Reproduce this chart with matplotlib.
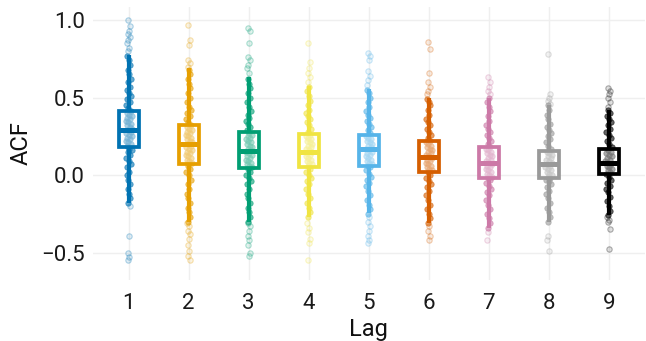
import numpy as np
import matplotlib
matplotlib.use("Agg")
import matplotlib.pyplot as plt
from matplotlib import font_manager as fm

names = {f.name for f in fm.fontManager.ttflist}
FONT = "DejaVu Sans"
for cand in ["Roboto", "Liberation Sans"]:
    if cand in names:
        FONT = cand
        break
plt.rcParams['font.family'] = [FONT, 'DejaVu Sans']

lags = [1, 2, 3, 4, 5, 6, 7, 8, 9]
colors = ["#0072B2", "#E69F00", "#009E73", "#F0E442", "#56B4E9",
          "#D55E00", "#CC79A7", "#999999", "#000000"]

# box statistics
q1 = [0.178, 0.073, 0.045, 0.055, 0.060, 0.020, -0.021, -0.020, 0.006]
med = [0.290, 0.200, 0.155, 0.150, 0.166, 0.118, 0.075, 0.071, 0.075]
q3 = [0.415, 0.325, 0.275, 0.268, 0.258, 0.220, 0.183, 0.155, 0.168]
whislo = [-0.180, -0.300, -0.300, -0.270, -0.247, -0.310, -0.344, -0.300, -0.260]
whishi = [0.774, 0.688, 0.634, 0.574, 0.555, 0.495, 0.500, 0.450, 0.420]

# ACF values (estimated) for each lag
cloud1 = [-0.18, -0.15, -0.12, -0.09, -0.06, -0.03, 0.0, 0.02, 0.05, 0.07, 0.09, 0.11, 0.13, 0.15, 0.16, 0.17,
          0.19, 0.2, 0.21, 0.22, 0.23, 0.24, 0.25, 0.26, 0.27, 0.28, 0.29, 0.3, 0.31, 0.32, 0.33, 0.34, 0.35,
          0.36, 0.37, 0.38, 0.39, 0.4, 0.41, 0.43, 0.45, 0.47, 0.49, 0.51, 0.53, 0.55, 0.57, 0.6, 0.62, 0.65,
          0.68, 0.71, 0.74, 0.77]
cloud2 = [-0.3, -0.27, -0.24, -0.21, -0.18, -0.15, -0.12, -0.09, -0.06, -0.03, 0.0, 0.02, 0.04, 0.06,
          0.08, 0.09, 0.1, 0.11, 0.12, 0.13, 0.14, 0.15, 0.16, 0.17, 0.18, 0.19, 0.2, 0.21, 0.22, 0.23, 0.24,
          0.25, 0.26, 0.27, 0.28, 0.29, 0.3, 0.31, 0.32, 0.34, 0.36, 0.38, 0.4, 0.42, 0.44, 0.47, 0.5, 0.53,
          0.56, 0.59, 0.62, 0.65, 0.68]
cloud3 = [-0.3, -0.27, -0.24, -0.21, -0.18, -0.15, -0.12, -0.09, -0.06, -0.04, -0.02, 0.0, 0.02, 0.04,
          0.05, 0.06, 0.07, 0.08, 0.09, 0.1, 0.11, 0.12, 0.13, 0.14, 0.15, 0.16, 0.17, 0.18, 0.19, 0.2, 0.21,
          0.22, 0.23, 0.24, 0.25, 0.26, 0.27, 0.29, 0.31, 0.33, 0.35, 0.37, 0.39, 0.41, 0.44, 0.47, 0.5, 0.53,
          0.56, 0.59, 0.62]
cloud4 = [-0.27, -0.24, -0.21, -0.18, -0.15, -0.12, -0.09, -0.06, -0.04, -0.02, 0.0, 0.02, 0.04,
          0.06, 0.07, 0.08, 0.09, 0.1, 0.11, 0.12, 0.13, 0.14, 0.15, 0.16, 0.17, 0.18, 0.19, 0.2, 0.21, 0.22,
          0.23, 0.24, 0.25, 0.26, 0.28, 0.3, 0.32, 0.34, 0.36, 0.38, 0.4, 0.42, 0.45, 0.48, 0.51, 0.54, 0.57]
cloud5 = [-0.25, -0.22, -0.19, -0.16, -0.13, -0.1, -0.07, -0.05, -0.03, -0.01, 0.01, 0.03, 0.05,
          0.06, 0.07, 0.08, 0.09, 0.1, 0.11, 0.12, 0.13, 0.14, 0.15, 0.16, 0.17, 0.18, 0.19, 0.2, 0.21, 0.22,
          0.23, 0.24, 0.25, 0.27, 0.29, 0.31, 0.33, 0.35, 0.37, 0.39, 0.41, 0.44, 0.47, 0.5, 0.53, 0.55]
cloud6 = [-0.31, -0.28, -0.25, -0.22, -0.19, -0.16, -0.13, -0.1, -0.08, -0.06, -0.04, -0.02, 0.0,
          0.02, 0.03, 0.04, 0.05, 0.06, 0.07, 0.08, 0.09, 0.1, 0.11, 0.12, 0.13, 0.14, 0.15, 0.16, 0.17, 0.18,
          0.19, 0.2, 0.21, 0.22, 0.24, 0.26, 0.28, 0.3, 0.32, 0.34, 0.36, 0.39, 0.42, 0.45, 0.47, 0.49]
cloud7 = [-0.34, -0.31, -0.28, -0.25, -0.22, -0.19, -0.16, -0.13, -0.11, -0.09, -0.07, -0.05, -0.03,
          -0.02, -0.01, 0.0, 0.01, 0.02, 0.03, 0.04, 0.05, 0.06, 0.07, 0.08, 0.09, 0.1, 0.11, 0.12, 0.13, 0.14,
          0.15, 0.16, 0.17, 0.18, 0.2, 0.22, 0.24, 0.26, 0.28, 0.3, 0.32, 0.35, 0.38, 0.41, 0.44, 0.47, 0.5]
cloud8 = [-0.3, -0.27, -0.24, -0.21, -0.18, -0.15, -0.12, -0.1, -0.08, -0.06, -0.04, -0.03,
          -0.02, -0.01, 0.0, 0.01, 0.02, 0.03, 0.04, 0.05, 0.06, 0.07, 0.08, 0.09, 0.1, 0.11, 0.12, 0.13, 0.14,
          0.15, 0.17, 0.19, 0.21, 0.23, 0.25, 0.27, 0.29, 0.31, 0.33, 0.36, 0.39, 0.42, 0.45]
cloud9 = [-0.26, -0.23, -0.2, -0.17, -0.14, -0.11, -0.09, -0.07, -0.05, -0.03, -0.01,
          0.01, 0.02, 0.03, 0.04, 0.05, 0.06, 0.07, 0.08, 0.09, 0.1, 0.11, 0.12, 0.13, 0.14, 0.15, 0.16,
          0.18, 0.2, 0.22, 0.24, 0.26, 0.28, 0.3, 0.32, 0.34, 0.36, 0.38, 0.4, 0.42]

tail1 = [1.0, 0.96, 0.93, 0.91, 0.89, 0.87, 0.85, 0.82, 0.80, -0.2, -0.39, -0.5, -0.53, -0.55]
tail2 = [0.97, 0.87, 0.84, 0.74, 0.72, 0.70, -0.31, -0.33, -0.36, -0.38, -0.41, -0.45, -0.49, -0.52, -0.55]
tail3 = [0.95, 0.93, 0.85, 0.76, 0.74, 0.71, 0.69, 0.66, -0.31, -0.33, -0.36, -0.39, -0.42, -0.45, -0.5, -0.52]
tail4 = [0.85, 0.73, 0.69, 0.66, 0.63, 0.60, -0.31, -0.34, -0.37, -0.41, -0.44, -0.55]
tail5 = [0.79, 0.77, 0.74, 0.67, 0.64, 0.61, 0.58, -0.27, -0.3, -0.33, -0.36, -0.39, -0.42, -0.44]
tail6 = [0.86, 0.81, 0.66, 0.60, 0.57, 0.54, 0.52, -0.33, -0.36, -0.39, -0.42]
tail7 = [0.63, 0.60, 0.57, 0.54, 0.52, -0.37, -0.42]
tail8 = [0.78, 0.52, 0.5, 0.48, 0.46, -0.39, -0.42, -0.49]
tail9 = [0.56, 0.54, 0.52, 0.5, 0.47, 0.44, -0.27, -0.29, -0.3, -0.35, -0.48]

clouds = [cloud1, cloud2, cloud3, cloud4, cloud5, cloud6, cloud7, cloud8, cloud9]
tails = [tail1, tail2, tail3, tail4, tail5, tail6, tail7, tail8, tail9]

yticks = [-0.5, 0.0, 0.5, 1.0]
ytick_labels = ["\u22120.5", "0.0", "0.5", "1.0"]

W, H = 646, 341
fig = plt.figure(figsize=(W / 100, H / 100), dpi=100)
ax = fig.add_axes([92.7 / W, 1 - 280 / H, (644.7 - 92.7) / W, (280 - 6.7) / H])

def offsets(vals, center, wmax, wmin):
    vals = np.asarray(vals)
    i = np.arange(len(vals))
    u = ((i * 0.6180339887 + 0.31) % 1.0) * 2 - 1
    w = wmin + (wmax - wmin) * np.exp(-((vals - center) / 0.3) ** 2)
    return u * w

for k, lag in enumerate(lags):
    c = colors[k]
    cv = np.array(clouds[k])
    ax.scatter(lag + offsets(cv, med[k], 0.06, 0.02), cv, s=15, color=c, alpha=0.6,
               edgecolors=c, linewidths=0.6, zorder=2)
    tv = np.array(tails[k])
    ax.scatter(lag + offsets(tv, med[k], 0.025, 0.025), tv, s=15,
               facecolors=matplotlib.colors.to_rgba(c, 0.12),
               edgecolors=matplotlib.colors.to_rgba(c, 0.3), linewidths=0.8, zorder=2)

stats = []
for k in range(len(lags)):
    stats.append(dict(med=med[k], q1=q1[k], q3=q3[k], whislo=whislo[k], whishi=whishi[k], fliers=[]))

for k, lag in enumerate(lags):
    c = colors[k]
    ax.bxp([stats[k]], positions=[lag], widths=0.33, showcaps=False, showfliers=False,
           patch_artist=True, manage_ticks=False,
           boxprops=dict(facecolor=(1, 1, 1, 0.45), edgecolor=c, linewidth=2.7),
           medianprops=dict(color=c, linewidth=3.6, solid_capstyle='butt'),
           whiskerprops=dict(color=c, linewidth=3.0, solid_capstyle='butt'),
           zorder=3)

ax.set_xlim(0.4, 9.6)
ax.set_ylim(-0.677, 1.086)
ax.set_xticks(lags)
ax.set_xticklabels([str(l) for l in lags])
ax.set_yticks(yticks)
ax.set_yticklabels(ytick_labels)
ax.grid(True, color="#EFEFEF", linewidth=1.0)
ax.set_axisbelow(True)
for s in ax.spines.values():
    s.set_visible(False)
ax.tick_params(axis='both', length=0, labelsize=16, colors="#1a1a1a")
ax.tick_params(axis='x', pad=9.5)
ax.tick_params(axis='y', pad=5.5)
ax.set_xlabel("Lag", fontsize=17, color="#111111", labelpad=3)
ax.set_ylabel("ACF", fontsize=17, color="#111111", labelpad=6)

fig.savefig("out.png", dpi=100, facecolor="white")
